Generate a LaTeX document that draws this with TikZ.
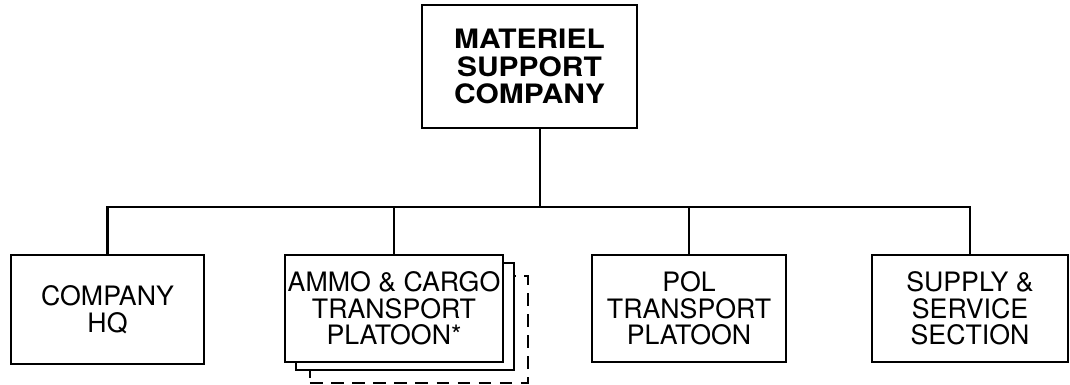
\documentclass[tikz,border=0pt]{standalone}
\usepackage{fontspec}
\setmainfont{TeX Gyre Heros}
\newfontfamily\wideheros[FakeStretch=1.12]{TeX Gyre Heros}
\newcommand\orgheadfont{\wideheros\bfseries\fontsize{19}{19.6}\selectfont}
\newcommand\orgunitfont{\fontsize{19}{19}\selectfont}
\begin{document}
\begin{tikzpicture}[x=0.025cm, y=-0.025cm, line width=1.5pt]
            \tikzstyle{unit box}=[draw, fill=white, align=center, inner sep=0pt, font=\orgunitfont,
                                  minimum width=4.85cm, minimum height=2.675cm]
            \tikzstyle{head box}=[unit box, font=\orgheadfont, minimum width=5.375cm, minimum height=3.075cm]
            \tikzstyle{extra box}=[draw, minimum width=5.45cm, minimum height=2.675cm]

            \useasboundingbox (0,0) rectangle (1070,385);

            % 上级
            \node[head box] (msc) at (529.5,66.5) {MATERIEL\\SUPPORT\\COMPANY};

            % 下级
            \node[unit box, minimum width=4.825cm, minimum height=2.725cm] (hq) at (107.5,309.5) {COMPANY\\HQ};
            \node[extra box, line width=0.9pt, dash pattern=on 9pt off 6pt] (ammo3) at (419,329.5) {};
            \node[extra box, fill=white] (ammo2) at (405,316.5) {};
            \node[unit box, minimum width=5.45cm] (ammo) at (394,308.5) {AMMO \& CARGO\\TRANSPORT\\PLATOON*};
            \node[unit box] (pol) at (689,308.5) {POL\\TRANSPORT\\PLATOON};
            \node[unit box, minimum width=4.9cm] (sup) at (970,308.5) {SUPPLY \&\\SERVICE\\SECTION};

            % 连线
            \coordinate (bus) at (540,207);
            \draw (msc.south -| bus) -- (bus);
            \draw (hq.north) |- (sup.north |- bus) -- (sup.north);
            \foreach \u in {ammo, pol}
                \draw (\u.north) -- (\u.north |- bus);
        \end{tikzpicture}
\end{document}
